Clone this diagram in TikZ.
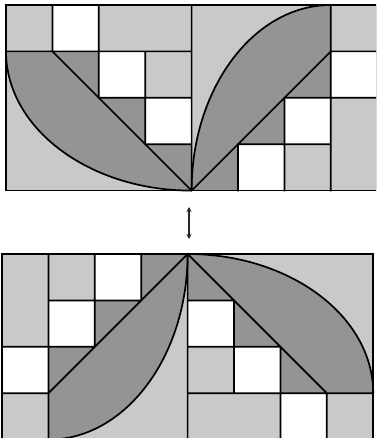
\documentclass[tikz,border=0pt]{standalone}
\usetikzlibrary{arrows.meta}
\definecolor{lg}{RGB}{200,201,203}
\definecolor{dg}{RGB}{147,148,150}
\tikzset{
  lightfill/.style={fill=lg},
  whitefill/.style={fill=white},
  darkfill/.style={fill=dg},
  edge/.style={draw=black, line width=1.7pt, line cap=rect},
  curve/.style={draw=black, line width=1.7pt},
  flip/.style={{Stealth[length=5pt,width=5pt]}-{Stealth[length=5pt,width=5pt]}, line width=1.3pt, draw=black!85}
}
\begin{document}
\begin{tikzpicture}
\useasboundingbox (0,0) rectangle (376pt,-438pt);
\clip (0,0) rectangle (376pt,-438pt);
% ---------- top block ----------
\begin{scope}[shift={(6pt,-5pt)}, x=46.4pt, y=-46.4pt]
  \path[lightfill] (0,0) rectangle (8,4);
  \path[whitefill] (1,0) rectangle (2,1) (2,1) rectangle (3,2) (3,2) rectangle (4,3)
                   (7,1) rectangle (8,2) (6,2) rectangle (7,3) (5,3) rectangle (6,4);
  \path[darkfill] (0,1) .. controls (0,2.657) and (1.791,4) .. (4,4) -- (4,3) -- (3,3) -- (3,2) -- (2,2) -- (2,1) -- cycle;
  \path[darkfill] (4,4) .. controls (4,1.791) and (5.343,0) .. (7,0) -- (7,2) -- (6,2) -- (6,3) -- (5,3) -- (5,4) -- cycle;
  \draw[edge] (0,1) -- (4,1) (7,1) -- (8,1) (2,2) -- (4,2) (6,2) -- (8,2) (3,3) -- (4,3) (5,3) -- (7,3)
              (1,0) -- (1,1) (2,0) -- (2,2) (3,1) -- (3,3) (4,0) -- (4,4) (5,3) -- (5,4) (6,2) -- (6,4) (7,0) -- (7,4)
              (1,1) -- (4,4) -- (7,1);
  \draw[curve] (0,1) .. controls (0,2.657) and (1.791,4) .. (4,4);
  \draw[curve] (4,4) .. controls (4,1.791) and (5.343,0) .. (7,0);
  \draw[edge] (0,0) rectangle (8,4);
\end{scope}
% ---------- bottom block ----------
\begin{scope}[shift={(2pt,-254pt)}, x=46.4pt, y=-46.4pt]
  \path[lightfill] (0,0) rectangle (8,4);
  \path[whitefill] (2,0) rectangle (3,1) (1,1) rectangle (2,2) (0,2) rectangle (1,3)
                   (4,1) rectangle (5,2) (5,2) rectangle (6,3) (6,3) rectangle (7,4);
  \path[darkfill] (1,4) .. controls (2.657,4) and (4,2.209) .. (4,0) -- (3,0) -- (3,1) -- (2,1) -- (2,2) -- (1,2) -- cycle;
  \path[darkfill] (4,0) .. controls (6.209,0) and (8,1.343) .. (8,3) -- (6,3) -- (6,2) -- (5,2) -- (5,1) -- (4,1) -- cycle;
  \draw[edge] (1,0) -- (1,4) (2,0) -- (2,2) (3,0) -- (3,1) (4,0) -- (4,4) (5,1) -- (5,3) (6,2) -- (6,4) (7,3) -- (7,4)
              (1,1) -- (3,1) (0,2) -- (2,2) (0,3) -- (1,3) (4,1) -- (5,1) (4,2) -- (6,2) (4,3) -- (8,3)
              (1,3) -- (4,0) -- (7,3);
  \draw[curve] (1,4) .. controls (2.657,4) and (4,2.209) .. (4,0);
  \draw[curve] (4,0) .. controls (6.209,0) and (8,1.343) .. (8,3);
  \draw[edge] (0,0) rectangle (8,4);
\end{scope}
% ---------- arrow ----------
\coordinate (up) at (189pt,-207pt);
\coordinate (dn) at (189pt,-239pt);
\draw[flip] (up) -- (dn);
\end{tikzpicture}
\end{document}
